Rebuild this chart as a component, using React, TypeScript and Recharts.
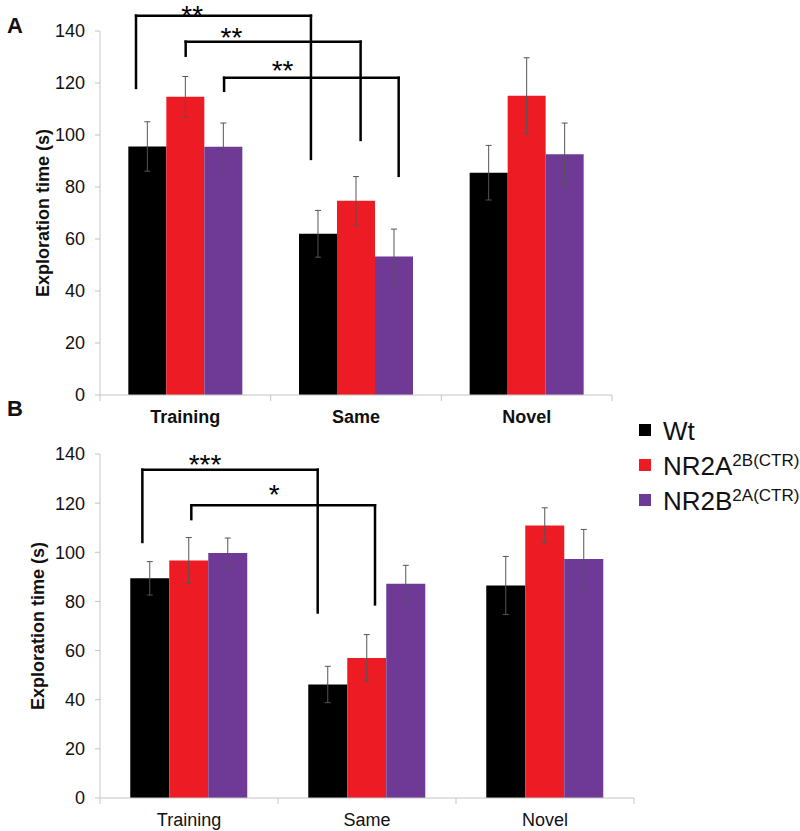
import React from 'react';
import { BarChart, Bar, XAxis, YAxis, ErrorBar, ReferenceLine, ReferenceDot, Legend } from 'recharts';

const FONT = '"Liberation Sans", Arial, sans-serif';

// Categories and series
const categories = ['Training', 'Same', 'Novel'];
const categoryCenters = [0.5, 1.5, 2.5];
const boundaryTicks = [0, 1, 2, 3];
const seriesNames = ['Wt', 'NR2A', 'NR2B'];
const seriesSup = ['', '2B(CTR)', '2A(CTR)'];
const seriesColors = ['#000000', '#ED1C24', '#6E3A96'];
const yTicks = [0, 20, 40, 60, 80, 100, 120, 140];

// Panel A values (s) and SEM
const wtA = [95.6, 62.0, 85.5];
const wtAErr = [9.5, 9.0, 10.5];
const nr2aA = [114.7, 74.7, 115.1];
const nr2aAErr = [7.8, 9.3, 14.6];
const nr2bA = [95.5, 53.3, 92.6];
const nr2bAErr = [9.1, 10.5, 12.0];

// Panel B values (s) and SEM
const wtB = [89.4, 46.2, 86.5];
const wtBErr = [6.8, 7.4, 11.8];
const nr2aB = [96.7, 57.0, 110.9];
const nr2aBErr = [9.3, 9.5, 7.2];
const nr2bB = [99.7, 87.2, 97.3];
const nr2bBErr = [6.1, 7.5, 12.0];

// Significance brackets (x in category units, y in data units)
const bracketsA = [
  { x1: 0.211, x2: 1.236, yTop: 145.9, yLeft: 118.1, yRight: 90.8, label: '**', lx: 0.54, ly: 148.1 },
  { x1: 0.502, x2: 1.527, yTop: 135.9, yLeft: 130.5, yRight: 98.1, label: '**', lx: 0.77, ly: 139.6 },
  { x1: 0.727, x2: 1.75, yTop: 122, yLeft: 117, yRight: 84.3, label: '**', lx: 1.07, ly: 127 },
];
const bracketsB = [
  { x1: 0.238, x2: 1.223, yTop: 133.6, yLeft: 104.2, yRight: 75.5, label: '***', lx: 0.59, ly: 138 },
  { x1: 0.513, x2: 1.545, yTop: 119.1, yLeft: 113.5, yRight: 78.8, label: '*', lx: 0.978, ly: 125.8 },
];

function buildRows(vals: number[][], errs: number[][]) {
  return categories.map((c, i) => ({
    name: c,
    pos: categoryCenters[i],
    s0: vals[0][i], e0: errs[0][i],
    s1: vals[1][i], e1: errs[1][i],
    s2: vals[2][i], e2: errs[2][i],
  }));
}

const dataA = buildRows([wtA, nr2aA, nr2bA], [wtAErr, nr2aAErr, nr2bAErr]);
const dataB = buildRows([wtB, nr2aB, nr2bB], [wtBErr, nr2aBErr, nr2bBErr]);

const AXIS_GRAY = '#c4c4c4';

function LegendContent() {
  return (
    <svg width={170} height={100} style={{ overflow: 'visible', display: 'block' }}>
      {seriesNames.map((n, i) => {
        const base = [20, 55, 90][i];
        return (
          <g key={n}>
            <rect x={9} y={base - 16} width={12} height={12} fill={seriesColors[i]} />
            <text x={33} y={base} fontFamily={FONT} fontSize={26} fill="#111">
              {n}
              {seriesSup[i] ? (
                <tspan fontSize={17} dy={-9}>{seriesSup[i]}</tspan>
              ) : null}
            </text>
          </g>
        );
      })}
    </svg>
  );
}

function Panel(props: any) {
  const { data, brackets, margin, boldTicks, height, gap, labelOffset, withLegend } = props;
  return (
    <BarChart width={800} height={height} data={data} margin={margin} barCategoryGap={gap} barGap={0}>
      <XAxis
        dataKey="pos"
        type="number"
        domain={[0, 3]}
        allowDataOverflow
        ticks={categoryCenters}
        tickFormatter={(v: number) => categories[Math.floor(v)]}
        interval={0}
        height={30}
        axisLine={{ stroke: AXIS_GRAY }}
        tickLine={false}
        tickSize={6}
        tickMargin={9}
        tick={{ fill: '#111', fontSize: 18, fontFamily: FONT, fontWeight: boldTicks ? 'bold' : 'normal' }}
      />
      <YAxis
        domain={[0, 140]}
        ticks={yTicks}
        width={100}
        allowDataOverflow
        axisLine={{ stroke: AXIS_GRAY }}
        tickLine={{ stroke: AXIS_GRAY }}
        tickSize={5}
        tickMargin={10}
        tick={{ fill: '#111', fontSize: 18, fontFamily: FONT }}
        label={{
          value: 'Exploration time (s)',
          angle: -90,
          position: 'insideLeft',
          offset: labelOffset,
          style: { textAnchor: 'middle', fontFamily: FONT, fontSize: 18, fontWeight: 'bold', fill: '#111' },
        }}
      />
      {seriesNames.map((n, i) => (
        <Bar key={n} dataKey={`s${i}`} name={n} fill={seriesColors[i]} isAnimationActive={false}>
          <ErrorBar dataKey={`e${i}`} width={3} stroke="#555" strokeWidth={1} direction="y" />
        </Bar>
      ))}
      {boundaryTicks.map((t) => (
        <ReferenceDot
          key={`bt${t}`}
          x={t}
          y={0}
          ifOverflow="visible"
          shape={(p: any) => <line x1={p.cx} y1={p.cy} x2={p.cx} y2={p.cy + 6} stroke={AXIS_GRAY} strokeWidth={1} />}
        />
      ))}
      {brackets.map((b: any, i: number) => [
        <ReferenceLine key={`l${i}`} ifOverflow="visible" stroke="#000" strokeWidth={2.5} strokeLinecap="square"
          segment={[{ x: b.x1, y: b.yLeft }, { x: b.x1, y: b.yTop }]} />,
        <ReferenceLine key={`t${i}`} ifOverflow="visible" stroke="#000" strokeWidth={2.5} strokeLinecap="square"
          segment={[{ x: b.x1, y: b.yTop }, { x: b.x2, y: b.yTop }]} />,
        <ReferenceLine key={`r${i}`} ifOverflow="visible" stroke="#000" strokeWidth={2.5} strokeLinecap="square"
          segment={[{ x: b.x2, y: b.yTop }, { x: b.x2, y: b.yRight }]} />,
        <ReferenceDot key={`s${i}`} x={b.lx} y={b.ly} ifOverflow="visible"
          shape={(p: any) => (
            <text x={p.cx} y={p.cy + 15} textAnchor="middle" fontFamily={FONT} fontSize={28} fill="#000">{b.label}</text>
          )} />,
      ])}
      {withLegend ? (
        <Legend
          layout="vertical"
          align="center"
          verticalAlign="middle"
          wrapperStyle={{ position: 'absolute', left: 630, top: 0, width: 170, height: 100 }}
          content={LegendContent}
        />
      ) : null}
    </BarChart>
  );
}

export default function App() {
  const letter: React.CSSProperties = {
    position: 'absolute', left: 7, fontFamily: FONT, fontWeight: 'bold', fontSize: 22, lineHeight: '22px', color: '#111',
  };
  return (
    <div style={{ position: 'absolute', left: 0, top: 0, width: 800, height: 831, background: '#fff', overflow: 'hidden' }}>
      <div style={{ position: 'absolute', left: 0, top: 0 }}>
        <Panel data={dataA} brackets={bracketsA} margin={{ top: 31, right: 188, left: 0, bottom: 15 }} boldTicks
          height={440} gap="16.6%" labelOffset={43} />
      </div>
      <div style={{ position: 'absolute', left: 0, top: 420 }}>
        <Panel data={dataB} brackets={bracketsB} margin={{ top: 34, right: 166, left: 0, bottom: 3 }} boldTicks={false}
          height={411} gap="17%" labelOffset={38} withLegend />
      </div>
      <div style={{ ...letter, top: 15 }}>A</div>
      <div style={{ ...letter, top: 398 }}>B</div>
    </div>
  );
}
